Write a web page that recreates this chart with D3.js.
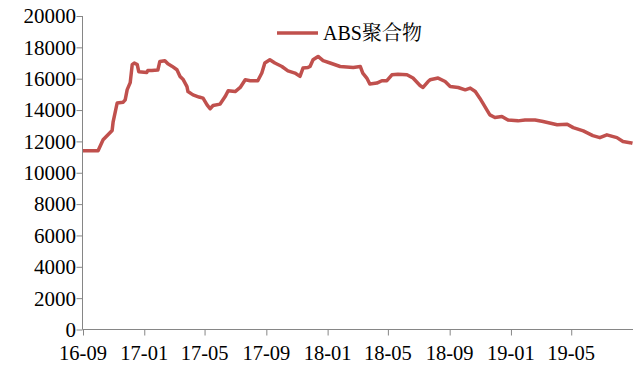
<!DOCTYPE html>
<html><head><meta charset="utf-8">
<script src="https://cdn.jsdelivr.net/npm/d3@7"></script>
<style>body{margin:0;background:#fff;}</style>
</head>
<body><svg id="c" width="633" height="367"></svg>
<script>
const seriesName = "ABS聚合物";
const dates = ["2016-09-01","2016-10-01","2016-10-11","2016-10-29","2016-10-31","2016-11-08","2016-11-20","2016-11-24","2016-11-28","2016-12-04","2016-12-08","2016-12-12","2016-12-18","2016-12-21","2017-01-06","2017-01-08","2017-01-16","2017-01-28","2017-02-01","2017-02-11","2017-02-17","2017-02-25","2017-03-07","2017-03-13","2017-03-19","2017-03-27","2017-03-29","2017-04-08","2017-04-20","2017-04-28","2017-05-06","2017-05-12","2017-05-18","2017-06-01","2017-06-11","2017-06-17","2017-07-01","2017-07-11","2017-07-21","2017-07-31","2017-08-15","2017-08-23","2017-08-29","2017-09-08","2017-09-18","2017-10-02","2017-10-14","2017-10-28","2017-11-07","2017-11-13","2017-11-23","2017-11-27","2017-12-03","2017-12-13","2017-12-23","2018-01-06","2018-01-26","2018-02-21","2018-03-07","2018-03-12","2018-03-20","2018-03-26","2018-04-09","2018-04-19","2018-04-29","2018-05-09","2018-05-21","2018-06-08","2018-06-20","2018-07-04","2018-07-10","2018-07-20","2018-07-24","2018-08-09","2018-08-23","2018-09-02","2018-09-18","2018-10-02","2018-10-12","2018-10-22","2018-10-31","2018-11-06","2018-11-14","2018-11-20","2018-11-30","2018-12-14","2018-12-26","2019-01-15","2019-01-29","2019-02-18","2019-03-06","2019-04-03","2019-04-23","2019-05-05","2019-05-25","2019-06-13","2019-06-27","2019-07-11","2019-07-31","2019-08-12","2019-08-26","2019-08-31"];
const values = [11400,11400,12100,12700,13250,14450,14500,14650,15300,15750,16900,17000,16900,16450,16400,16520,16520,16550,17100,17150,16950,16800,16570,16150,15970,15500,15180,14970,14830,14760,14330,14080,14290,14380,14860,15230,15180,15440,15930,15870,15870,16360,17000,17210,17000,16780,16500,16360,16150,16680,16720,16780,17210,17420,17150,17000,16780,16720,16780,16360,16040,15660,15720,15870,15870,16250,16290,16250,16040,15570,15440,15820,15930,16040,15820,15500,15440,15290,15400,15180,14760,14440,14010,13690,13520,13590,13370,13310,13370,13370,13270,13060,13100,12880,12670,12370,12240,12420,12240,11990,11920,11880];
const yTicks = [0,2000,4000,6000,8000,10000,12000,14000,16000,18000,20000];
const xTickDates = ["2016-09-01","2017-01-01","2017-05-01","2017-09-01","2018-01-01","2018-05-01","2018-09-01","2019-01-01","2019-05-01","2019-09-01"];
const xTickLabels = ["16-09","17-01","17-05","17-09","18-01","18-05","18-09","19-01","19-05",""];

const parse = d3.utcParse("%Y-%m-%d");
const data = dates.map((d,i)=>({d:parse(d), v:values[i]}));
const svg = d3.select("#c");
const L=83, R=633, T=16, B=329.5;
const x = d3.scaleUtc().domain([parse("2016-09-01"), parse("2019-09-01")]).range([L,R]);
const y = d3.scaleLinear().domain([0,20000]).range([B,T]);
const axisColor = "#868686";

const ya = svg.append("g").attr("transform",`translate(${L-0.5},0)`)
  .call(d3.axisLeft(y).tickValues(yTicks).tickSize(6).tickFormat(""));
ya.select(".domain").attr("stroke",axisColor).attr("d",`M0,${T}V${B}`);
ya.selectAll(".tick line").attr("stroke",axisColor);
ya.selectAll(".tick text").remove();

const xDates = xTickDates.map(parse);
const xa = svg.append("g").attr("transform",`translate(0,${B})`)
  .call(d3.axisBottom(x).tickValues(xDates).tickSize(6).tickFormat(""));
xa.select(".domain").attr("stroke",axisColor).attr("d",`M${L-0.5},0H${R}`);
xa.selectAll(".tick line").attr("stroke",axisColor);
xa.selectAll(".tick text").remove();

svg.append("g").selectAll("text").data(yTicks).join("text")
  .attr("x", L-7).attr("y", d=>y(d)).attr("dy","0.35em").attr("text-anchor","end")
  .style("font-family",'"Liberation Serif"').style("font-size","21px").attr("fill","#000")
  .text(d=>String(d));
svg.append("g").selectAll("text").data(xDates).join("text")
  .attr("x", d=>x(d)).attr("y", B+30).attr("text-anchor","middle")
  .style("font-family",'"Liberation Serif"').style("font-size","20.5px").attr("fill","#000")
  .text((d,i)=>xTickLabels[i]);

svg.append("path").datum(data)
  .attr("fill","none").attr("stroke","#C0504D").attr("stroke-width",3.5)
  .attr("stroke-linejoin","round")
  .attr("d", d3.line().x(d=>x(d.d)).y(d=>y(d.v)));

const lg = svg.append("g");
lg.append("line").attr("x1",277).attr("x2",318).attr("y1",33).attr("y2",33)
  .attr("stroke","#C0504D").attr("stroke-width",3.5);
const lt = lg.append("text").attr("x",323).attr("y",40).style("font-size","20px").attr("fill","#000");
lt.append("tspan").style("font-family",'"Liberation Serif"').text(seriesName.slice(0,3));
lt.append("tspan").style("font-family",'"Noto Serif CJK SC"').text(seriesName.slice(3));
</script></body></html>
